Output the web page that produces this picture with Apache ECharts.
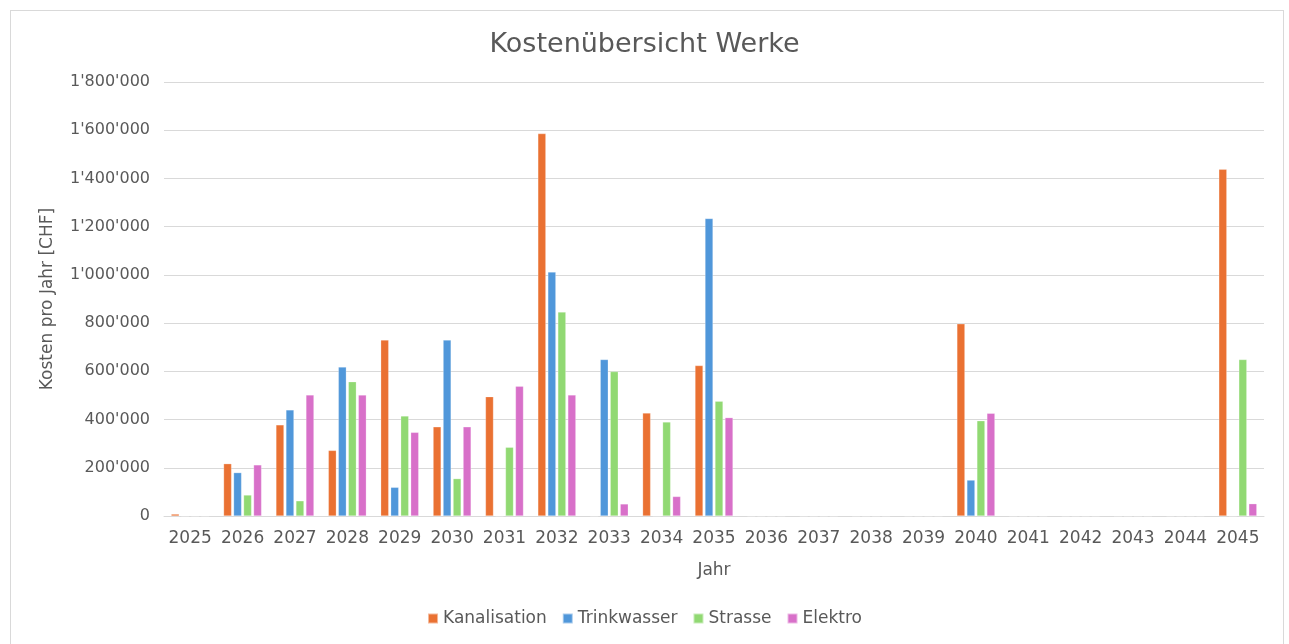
<!DOCTYPE html>
<html>
<head>
<meta charset="utf-8">
<script src="https://cdn.jsdelivr.net/npm/echarts@6/dist/echarts.min.js"></script>
<style>
html, body { margin: 0; padding: 0; background: #fff; }
#frame { position: absolute; left: 10px; top: 10px; width: 1274px; height: 640px; border: 1px solid #d9d9d9; box-sizing: border-box; }
#chart { position: absolute; left: 0; top: 0; width: 1289px; height: 644px; }
</style>
</head>
<body>
<div id="frame"></div>
<div id="chart"></div>
<script>
// Jahre
var years = ['2025','2026','2027','2028','2029','2030','2031','2032','2033','2034','2035',
             '2036','2037','2038','2039','2040','2041','2042','2043','2044','2045'];

// Kosten pro Werk (CHF)
var kanalisation = [8000, 217000, 378000, 272000, 730000, 370000, 495000, 1586000, 0, 427000, 624000,
                    0, 0, 0, 0, 797000, 0, 0, 0, 0, 1438000];
var trinkwasser  = [0, 180000, 440000, 618000, 119000, 730000, 0, 1012000, 649000, 0, 1234000,
                    0, 0, 0, 0, 149000, 0, 0, 0, 0, 0];
var strasse      = [0, 87000, 63000, 557000, 415000, 155000, 285000, 846000, 599000, 390000, 476000,
                    0, 0, 0, 0, 395000, 0, 0, 0, 0, 649000];
var elektro      = [0, 212000, 502000, 502000, 347000, 370000, 538000, 502000, 50000, 81000, 408000,
                    0, 0, 0, 0, 426000, 0, 0, 0, 0, 51000];

var font = '"DejaVu Sans", "Liberation Sans", Arial, sans-serif';
var grey = '#595959';

function chf(v) {
    return String(v).replace(/\B(?=(\d{3})+(?!\d))/g, "'");
}

function bar(name, data, color) {
    return {
        name: name,
        type: 'bar',
        data: data,
        barWidth: 8,
        barGap: '25%',
        itemStyle: { color: color, borderColor: 'rgba(255,255,255,0.5)', borderWidth: 0.5 }
    };
}

var chart = echarts.init(document.getElementById('chart'));
chart.setOption({
    animation: false,
    title: {
        text: 'Kostenübersicht Werke',
        left: 'center',
        top: 26,
        textStyle: { fontFamily: font, fontSize: 27, fontWeight: 'normal', color: grey }
    },
    legend: {
        bottom: 12,
        left: 'center',
        itemWidth: 10,
        itemHeight: 10,
        itemGap: 15,
        icon: 'rect',
        textStyle: { fontFamily: font, fontSize: 17, color: grey }
    },
    grid: { left: 164, right: 25, top: 82, bottom: 128 },
    xAxis: {
        type: 'category',
        data: years,
        name: 'Jahr',
        nameLocation: 'middle',
        nameGap: 46,
        nameTextStyle: { fontFamily: font, fontSize: 17, color: grey },
        axisLine: { lineStyle: { color: '#d9d9d9', width: 1 } },
        axisTick: { show: false },
        axisLabel: { fontFamily: font, fontSize: 17, color: grey, margin: 14, interval: 0, hideOverlap: false }
    },
    yAxis: {
        type: 'value',
        min: 0,
        max: 1800000,
        interval: 200000,
        name: 'Kosten pro Jahr [CHF]',
        nameLocation: 'middle',
        nameGap: 108,
        nameTextStyle: { fontFamily: font, fontSize: 17, color: grey },
        axisLine: { show: false },
        axisTick: { show: false },
        splitLine: { lineStyle: { color: '#d9d9d9', width: 1 } },
        axisLabel: { fontFamily: font, fontSize: 16, color: grey, margin: 14, formatter: chf }
    },
    series: [
        bar('Kanalisation', kanalisation, '#EA7132'),
        bar('Trinkwasser', trinkwasser, '#5097DA'),
        bar('Strasse', strasse, '#91D973'),
        bar('Elektro', elektro, '#D870C9')
    ]
});
</script>
</body>
</html>
